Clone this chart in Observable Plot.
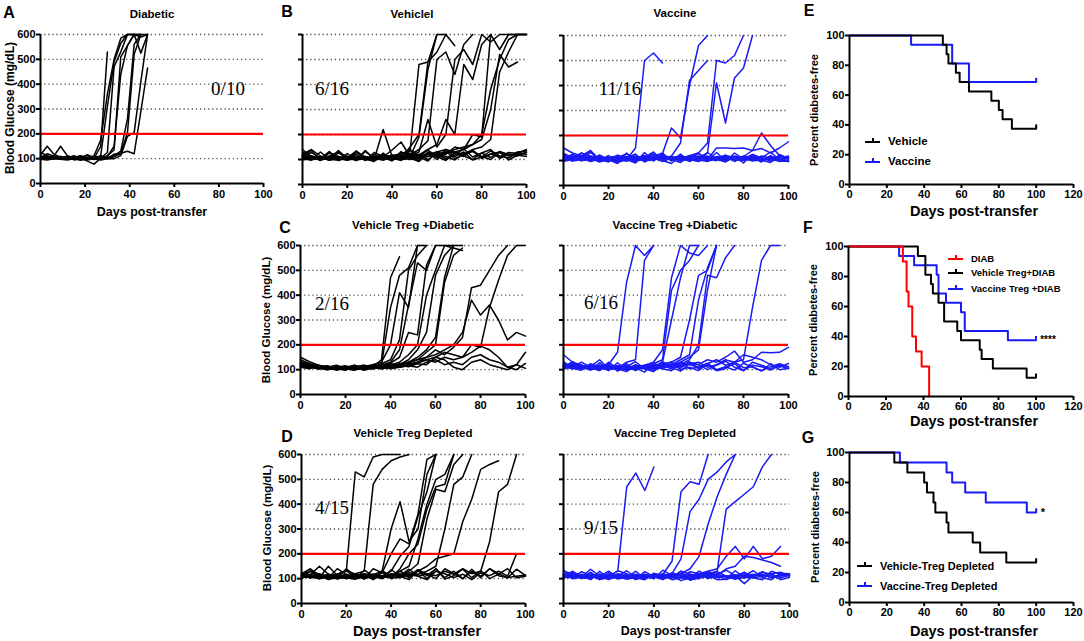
<!DOCTYPE html>
<html><head><meta charset="utf-8">
<script src="https://cdn.jsdelivr.net/npm/d3@7"></script>
<script src="https://cdn.jsdelivr.net/npm/@observablehq/plot@0.6"></script>
<style>
body{margin:0;background:#fff;}
#fig{position:relative;width:1084px;height:641px;overflow:hidden;font-family:"Liberation Sans",Arial,sans-serif;font-weight:bold;color:#000;background:#fff;}
.t{position:absolute;white-space:nowrap;transform:translate(-50%,-50%);line-height:1;}
.l{position:absolute;white-space:nowrap;transform:translate(0,-50%);line-height:1;}
.frac{font-family:"Liberation Serif","Times New Roman",serif;font-weight:normal;}
.seg{position:absolute;height:2px;}
</style></head><body><div id="fig"></div>
<script>
// ---------- data ----------
const daysA = [0,3,6,9,12,15,18,21,24,27,30,33,36,39,42,45,48];
const days = [0,4,8,12,16,20,24,28,32,36,40,44,48,52,56,60,64,68,72,76,80,84,88,92,96,100];
const glucoseTicks = [0,100,200,300,400,500,600];
const gridLevels = [100,200,300,400,500,600];
const dayTicks = [0,20,40,60,80,100];
const survDayTicks = [0,20,40,60,80,100,120];
const pctTicks = [0,20,40,60,80,100];
const threshold = [200];

// A: Diabetic
const diabeticA = [
[115,150,118,105,102,100,108,112,100,150,530],
[100,120,110,150,112,104,98,106,96,112,310,490,565,600,600,600],
[125,112,100,106,98,102,96,100,112,175,360,500,585,600,600,590,600],
[95,106,102,98,95,100,102,90,78,102,125,470,530,600,600],
[105,100,112,100,106,95,100,116,104,100,112,135,510,555,600,600],
[100,110,104,100,98,106,112,95,100,98,104,112,130,260,560,600,600],
[110,98,100,104,110,100,94,100,100,95,100,100,112,190,205,410,600],
[98,95,100,110,100,98,105,100,106,110,100,118,122,130,120,290,465],
[104,108,100,98,104,112,100,105,98,104,108,150,440,555,600,525,600],
[112,105,110,100,100,104,110,100,100,112,100,108,120,205,520,600]
];
// B left: Vehicle
const vehicleB = [
[118,108,104,100,112,104,110,98,104,112,116,122,132,480,490,600,600,555],
[108,115,100,110,104,98,104,112,100,116,110,104,150,200,490,530,600],
[104,98,110,104,100,112,100,106,112,98,110,116,110,190,460,600],
[112,104,108,98,106,100,110,104,98,108,104,112,118,140,175,500,530,440,560,600],
[100,110,98,106,112,104,98,110,106,104,118,108,112,130,260,150,200,500,540,480,600,570,600,600,600,600],
[106,102,112,100,98,110,104,100,112,106,100,104,124,118,140,160,260,200,480,420,560,600],
[110,106,100,112,104,98,106,112,100,110,108,100,106,112,120,130,140,130,140,200,190,600,540,600,600,600],
[102,112,106,98,110,104,100,108,104,98,112,106,100,110,124,118,130,140,150,160,200,380,500,580,600,600],
[114,100,104,110,98,106,112,104,98,104,100,110,116,104,112,130,120,150,140,160,180,300,520,470,490],
[98,104,110,106,100,112,98,104,110,106,104,98,110,120,112,118,126,130,120,140,150,180,450,530,600,600],
[130,112,96,126,112,98,134,110,100,220,112,104,138,110,94,132,100,118,142,110,126,108,132,120,114,130],
[120,140,114,98,126,112,96,136,104,110,138,170,112,94,126,108,140,112,130,98,110,134,114,106,128,120],
[110,128,104,132,96,108,134,98,120,104,98,132,106,92,130,118,104,126,112,138,104,122,130,98,118,128],
[104,98,130,100,136,104,120,96,128,112,94,120,140,116,100,124,112,98,124,132,106,122,110,128,124,140],
[140,112,106,130,98,124,96,132,104,120,110,96,124,110,138,112,96,128,114,100,126,140,104,122,118,112],
[116,136,98,114,130,100,128,102,92,126,100,128,120,96,126,100,132,104,118,134,112,100,128,114,130,134]
];
// B right: Vaccine
const vaccineB = [
[112,118,104,110,100,108,112,104,150,500,530,490],
[120,110,130,116,104,110,118,104,110,120,112,128,230,190,400,560,600],
[104,112,108,100,110,104,98,112,106,110,126,104,118,170,420,460,500],
[108,104,116,110,100,112,104,110,118,104,112,108,104,110,118,130,170,500,490,520,600],
[100,108,112,104,116,100,110,104,112,100,108,116,110,104,120,112,130,410,250,430,470,600],
[150,130,118,140,104,112,118,110,116,104,124,108,112,118,110,128,104,150,150,148,150,140,148,130,150,175],
[128,112,118,104,100,110,112,126,110,118,104,112,116,100,112,118,108,110,120,112,116,140,210,160,120,110],
[110,124,98,132,106,94,122,104,90,132,98,126,104,92,118,130,104,100,122,96,118,112,94,120,96,100],
[124,98,130,100,122,104,88,130,98,112,134,100,88,120,104,96,132,108,94,130,106,124,102,92,124,108],
[98,124,112,136,98,120,96,110,126,94,116,130,98,126,96,114,100,132,100,116,90,124,110,134,102,96],
[100,110,104,118,110,98,104,112,96,110,100,118,110,116,104,112,118,104,110,104,112,100,118,110,100,96],
[112,100,106,110,94,104,110,98,112,100,110,104,112,100,110,104,96,112,118,104,110,98,104,116,110,118],
[106,114,100,104,112,106,92,104,110,98,104,112,106,110,98,116,110,104,96,112,104,110,112,98,104,112],
[96,106,118,100,104,98,110,116,104,106,112,96,110,104,112,98,104,110,116,100,108,104,98,110,116,104],
[110,98,104,112,100,110,104,98,114,110,104,120,100,112,104,108,114,106,104,118,112,104,110,104,98,112],
[114,108,110,96,106,112,100,108,98,104,108,104,114,98,106,112,100,116,110,104,100,116,104,112,106,98]
];
// C left: Vehicle Treg + Diabetic
const vehicleTregC = [
[150,132,118,110,104,112,108,116,110,140,470,555],
[128,124,112,104,110,100,118,104,112,120,350,480,510,600],
[120,118,104,112,100,104,110,112,120,130,200,410,350,600,600],
[116,112,110,100,112,104,100,106,110,124,140,220,500,560,600],
[124,110,116,104,106,112,104,118,112,118,130,180,360,530,500,600],
[132,120,108,112,104,100,112,104,118,112,126,150,250,240,520,600,600,590,580],
[118,114,112,106,110,104,98,112,104,110,118,130,160,200,400,500,600,600],
[126,116,104,110,118,106,112,100,110,104,112,120,140,180,250,480,560,600],
[112,120,118,104,100,112,106,110,104,116,110,124,130,150,180,230,470,600,600],
[140,124,112,116,104,110,118,104,112,110,124,118,130,140,170,200,450,560,590],
[120,110,104,112,106,98,110,104,112,118,106,120,128,140,150,180,160,190,230,430,440,500,560,600],
[114,106,118,104,112,100,110,104,116,110,112,118,124,130,150,160,180,200,250,380,320,360,300,220,250,235],
[110,116,104,112,100,106,112,118,104,110,106,112,116,130,140,150,170,160,150,200,190,350,460,560,600,600],
[118,112,106,100,110,116,104,110,112,106,118,110,120,126,140,130,150,140,150,170,195,180,150,110,120,170],
[126,118,112,104,106,110,100,108,112,104,110,118,112,124,120,150,140,110,100,130,140,120,110,100,120,105],
[110,104,116,112,100,104,110,98,106,112,104,110,116,110,130,140,120,130,120,150,160,140,130,110,100,125]
];
// C right: Vaccine Treg + Diabetic
const vaccineTregC = [
[112,118,110,116,110,120,170,450,600,560,600],
[120,112,118,104,110,112,104,130,140,540,600],
[116,110,104,112,118,106,104,110,112,118,130,180,470,600,570,560,600],
[110,118,112,104,100,110,116,104,108,112,124,140,420,500,540,600],
[124,104,110,116,104,112,100,110,116,104,110,130,300,470,600,600],
[112,110,104,118,110,104,112,106,100,110,116,124,130,150,300,480,500,600],
[118,112,116,104,112,100,108,116,104,112,110,104,120,140,160,380,510,600],
[106,114,110,100,112,116,104,110,112,106,104,116,110,120,140,200,480,470,550,600],
[126,110,112,106,118,104,110,104,112,116,104,110,118,112,124,130,110,120,140,130,140,350,540,600,600],
[112,104,118,110,104,112,116,100,110,104,116,112,120,130,150,180,420,600],
[160,130,118,112,140,104,110,116,104,112,118,110,124,116,130,120,140,130,150,175,130,140,170,168,170,190],
[118,124,110,116,104,112,108,100,118,110,124,116,104,130,120,110,124,140,118,130,160,150,140,120,110,125],
[110,132,112,98,128,100,112,124,96,118,106,132,110,94,124,120,100,118,134,110,96,130,118,104,120,112],
[104,112,130,110,96,124,94,112,132,104,92,120,116,106,132,104,118,96,104,130,108,112,94,124,100,106],
[132,106,98,124,112,96,128,98,106,90,126,104,96,128,104,110,126,98,110,124,96,118,112,98,116,104],
[100,124,106,114,98,130,104,92,120,106,98,118,132,100,110,96,124,100,112,98,126,110,96,112,124,110]
];
// D left: Vehicle Treg Depleted
const vehicleDepD = [
[120,140,110,104,118,130,530,510,590,600,600,600],
[110,104,118,112,104,110,120,130,480,540,575,590,600],
[104,112,100,110,118,104,112,120,116,130,300,410,250,300,520,600],
[112,118,106,104,110,116,98,110,104,124,200,260,240,360,580,600],
[106,110,112,98,104,110,118,104,112,110,130,190,230,350,450,600],
[116,104,110,112,100,106,112,98,118,112,104,140,200,240,380,470,480,600],
[110,112,104,118,110,104,98,112,106,104,110,130,150,260,400,500,520,600],
[104,110,118,106,112,100,110,116,104,112,118,110,130,160,340,460,450,560,600],
[112,106,104,110,116,110,104,112,110,104,120,116,110,130,150,180,190,200,330,420,540,560,575],
[118,104,112,106,100,112,110,104,118,112,104,110,124,118,130,150,300,480,510,600],
[104,110,100,112,106,118,104,110,100,112,106,104,118,110,120,112,130,118,140,120,130,250,450,480,600],
[104,116,150,118,104,140,110,118,96,132,110,120,104,136,118,100,140,120,100,130,110,140,120,104,110,115],
[110,130,112,96,118,132,104,112,98,128,100,112,138,110,96,130,120,104,118,96,124,112,130,110,200],
[118,130,104,150,112,134,118,100,140,124,104,130,112,136,112,140,104,130,100,138,104,140,112,104,138,112],
[100,132,118,104,140,116,100,134,112,100,136,110,96,132,100,140,98,112,138,104,132,100,118,140,104,110]
];
// D right: Vaccine Treg Depleted
const vaccineDepD = [
[120,116,112,104,118,110,130,470,525,455,550],
[110,104,118,112,106,110,116,104,112,110,104,118,170,450,490,480,600],
[104,112,110,118,104,112,100,110,116,104,112,110,120,180,370,420,500,530,570,600],
[112,118,104,110,100,116,110,104,112,118,110,104,112,120,140,190,320,430,520,600],
[118,104,112,106,110,104,118,110,100,112,104,116,110,104,118,112,120,130,380,410,440,470,550,600],
[106,112,104,116,110,100,112,104,110,116,104,112,118,110,104,120,130,140,190,230,180,230,180,190,230],
[130,120,112,104,118,110,104,116,110,104,118,112,104,130,118,110,124,112,140,150,190,185,175,165,150],
[120,110,104,118,112,104,110,98,106,112,104,120,110,104,98,112,118,106,112,104,120,110,118,104,112,118],
[110,118,112,104,110,130,104,112,118,104,112,100,110,118,112,104,110,120,104,110,112,118,110,120,126,110],
[104,130,100,126,98,104,132,120,96,110,100,134,112,92,104,130,112,96,98,132,104,110,126,118,96,106],
[116,104,128,112,96,124,100,104,130,98,120,112,96,104,128,120,100,118,134,112,80,112,128,110,112,118],
[136,100,106,138,110,96,120,110,100,128,108,96,124,112,96,104,130,112,96,110,126,104,96,130,118,112],
[100,128,112,96,130,98,110,132,104,96,122,110,104,130,94,104,112,128,110,98,112,132,104,96,122,120],
[118,112,104,100,116,110,104,112,104,100,112,118,104,106,112,118,104,110,112,100,104,110,116,104,112,116],
[106,104,116,110,100,104,110,116,104,112,110,104,112,118,104,100,116,104,110,116,110,104,110,118,104,114]
];

// Survival (percent diabetes-free) step curves
const eVehicleDays = [0,50,52,53,57,59,64,76,80,82,87,100];
const eVehiclePct  = [100,93.75,87.5,81.25,75,68.75,62.5,56.25,50,43.75,37.5,37.5];
const eVaccineDays = [0,33,55,64,100];
const eVaccinePct  = [100,93.75,81.25,68.75,68.75];
const fDiabDays = [0,29,31,32,34,36,39,43];
const fDiabPct  = [100,90,70,60,40,30,20,0];
const fVehicleDays = [0,37,41,44,45,48,51,58,60,70,71,77,95,100];
const fVehiclePct  = [100,93.75,81.25,75,68.75,62.5,50,43.75,37.5,31.25,25,18.75,12.5,12.5];
const fVaccineDays = [0,27,35,47,48,52,60,62,85,100];
const fVaccinePct  = [100,93.75,87.5,81.25,68.75,62.5,56.25,43.75,37.5,37.5];
const gVehicleDays = [0,24,31,40,41.5,45,46,52,53,66,70,84,100];
const gVehiclePct  = [100,93.33,86.67,80,73.33,66.67,60,53.33,46.67,40,33.33,26.67,26.67];
const gVaccineDays = [0,27,52,55,62,73,95,100];
const gVaccinePct  = [100,93.33,86.67,80,73.33,66.67,60,60];

// ---------- drawing ----------
const fig = document.getElementById("fig");
const BLACK = "#000", BLUE = "#1a1af5", RED = "#ff0000";
const FONT = "'Liberation Sans', Arial, sans-serif";

function place(svg, L, T, mL, mT) {
  svg.style.position = "absolute";
  svg.style.left = (L - mL) + "px";
  svg.style.top = (T - mT) + "px";
  fig.appendChild(svg);
}

function glucosePanel(box, series, dayArr, color, yLabels) {
  const [L, T, R, B] = box;
  const mL = 32, mR = 8, mT = 6, mB = 24;
  const rows = [];
  series.forEach((s, i) => s.forEach((v, j) => { if (v != null) rows.push({day: dayArr[j], value: v, mouse: i}); }));
  const svg = Plot.plot({
    width: R - L + mL + mR, height: B - T + mT + mB,
    marginLeft: mL, marginRight: mR, marginTop: mT, marginBottom: mB,
    style: {fontFamily: FONT, fontSize: "11px", fontWeight: "bold", background: "transparent", overflow: "visible", color: "#000"},
    x: {domain: [0, 100]},
    y: {domain: [0, 600]},
    marks: [
      Plot.ruleY(gridLevels, {stroke: "#555", strokeWidth: 1.3, strokeDasharray: "1.3,2.8"}),
      Plot.line(rows, {x: "day", y: "value", z: "mouse", stroke: color, strokeWidth: 1.5, strokeLinejoin: "round"}),
      Plot.ruleY(threshold, {stroke: RED, strokeWidth: 2.2}),
      Plot.axisX({ticks: dayTicks, tickSize: 4, tickPadding: 3, strokeWidth: 2, label: null}),
      Plot.axisY({ticks: glucoseTicks, tickSize: 4, tickPadding: 1, strokeWidth: 2, label: null,
                  tickFormat: yLabels ? (d => String(d)) : (() => "")}),
      Plot.ruleX([0], {stroke: "#000", strokeWidth: 2}),
      Plot.ruleY([0], {stroke: "#000", strokeWidth: 2})
    ]
  });
  place(svg, L, T, mL, mT);
}

function survivalPanel(box, curves) {
  const [L, T, R, B] = box;
  const mL = 32, mR = 8, mT = 6, mB = 24;
  const marks = [];
  curves.forEach(c => {
    const rows = c.days.map((d, i) => ({day: d, pct: c.pct[i]}));
    marks.push(Plot.line(rows, {x: "day", y: "pct", curve: "step-after", stroke: c.color, strokeWidth: 2}));
    const last = rows[rows.length - 1];
    if (last.pct > 0) marks.push(Plot.ruleX([last], {x: "day", y1: "pct", y2: d => d.pct + 2.5, stroke: c.color, strokeWidth: 2}));
  });
  const svg = Plot.plot({
    width: R - L + mL + mR, height: B - T + mT + mB,
    marginLeft: mL, marginRight: mR, marginTop: mT, marginBottom: mB,
    style: {fontFamily: FONT, fontSize: "11px", fontWeight: "bold", background: "transparent", overflow: "visible", color: "#000"},
    x: {domain: [0, 120]},
    y: {domain: [0, 100]},
    marks: [
      ...marks,
      Plot.axisX({ticks: survDayTicks, tickSize: 4, tickPadding: 2, strokeWidth: 2, label: null}),
      Plot.axisY({ticks: pctTicks, tickSize: 4, tickPadding: 1, strokeWidth: 2, label: null}),
      Plot.ruleX([0], {stroke: "#000", strokeWidth: 2}),
      Plot.ruleY([0], {stroke: "#000", strokeWidth: 2})
    ]
  });
  place(svg, L, T, mL, mT);
}

function txt(x, y, s, size, cls = "t", extra = {}) {
  const d = document.createElement("div");
  d.className = cls;
  d.textContent = s;
  d.style.left = x + "px";
  d.style.top = y + "px";
  d.style.fontSize = size + "px";
  Object.assign(d.style, extra);
  fig.appendChild(d);
  return d;
}
function vtxt(x, y, s, size) {
  return txt(x, y, s, size, "t", {transform: "translate(-50%,-50%) rotate(-90deg)"});
}
function legendItem(x, y, color, label, size) {
  const seg = document.createElement("div");
  seg.className = "seg";
  Object.assign(seg.style, {left: x + "px", top: (y - 1) + "px", width: "15px", background: color});
  fig.appendChild(seg);
  const tick = document.createElement("div");
  Object.assign(tick.style, {position: "absolute", left: (x + 6.5) + "px", top: (y - 4) + "px", width: "2px", height: "4px", background: color});
  fig.appendChild(tick);
  txt(x + 23, y, label, size, "l");
}

// glucose panels
glucosePanel([40, 34, 263, 183], diabeticA, daysA, BLACK, true);
glucosePanel([302, 34, 526, 184], vehicleB, days, BLACK, false);
glucosePanel([563, 35, 788, 185], vaccineB, days, BLUE, false);
glucosePanel([300, 245, 525, 394], vehicleTregC, days, BLACK, true);
glucosePanel([563, 245, 788, 394], vaccineTregC, days, BLUE, false);
glucosePanel([301, 454, 525, 603], vehicleDepD, days, BLACK, true);
glucosePanel([563, 454, 789, 603], vaccineDepD, days, BLUE, false);

// survival panels
survivalPanel([849, 35, 1073, 184], [
  {days: eVaccineDays, pct: eVaccinePct, color: BLUE},
  {days: eVehicleDays, pct: eVehiclePct, color: BLACK}
]);
survivalPanel([848, 246, 1073, 396], [
  {days: fVaccineDays, pct: fVaccinePct, color: BLUE},
  {days: fVehicleDays, pct: fVehiclePct, color: BLACK},
  {days: fDiabDays, pct: fDiabPct, color: RED}
]);
survivalPanel([849, 452, 1073, 602], [
  {days: gVaccineDays, pct: gVaccinePct, color: BLUE},
  {days: gVehicleDays, pct: gVehiclePct, color: BLACK}
]);

// panel letters
[["A",9,13],["B",287,12],["C",285,228],["D",287,437],["E",809,11],["F",808,228],["G",808,438]]
  .forEach(([s,x,y]) => txt(x, y, s, 16));

// titles
txt(152, 15, "Diabetic", 11.5);
txt(412, 15, "Vehiclel", 11.5);
txt(675, 14, "Vaccine", 11.5);
txt(413, 226, "Vehicle Treg +Diabetic", 11.5);
txt(675, 226, "Vaccine Treg +Diabetic", 11.5);
txt(413, 434, "Vehicle Treg Depleted", 11.5);
txt(675, 434, "Vaccine Treg Depleted", 11.5);

// fractions
[["0/10",228,88],["6/16",332,88],["11/16",620,88],["2/16",332,303],["6/16",601,302],["4/15",332,507],["9/15",601,527]]
  .forEach(([s,x,y]) => txt(x, y, s, 19, "t frac"));

// axis titles
txt(152, 212, "Days post-transfer", 12.5);
txt(417, 631, "Days post-transfer", 14.5);
txt(676, 631, "Days post-transfer", 12.5);
txt(974, 211, "Days post-transfer", 14.5);
txt(974, 421, "Days post-transfer", 14.5);
txt(974, 631, "Days post-transfer", 14.5);
vtxt(10, 108, "Blood Glucose (mg/dL)", 12);
vtxt(267, 320, "Blood Glucose (mg/dL)", 11.5);
vtxt(268, 528, "Blood Glucose (mg/dL)", 11.5);
vtxt(814, 110, "Percent diabetes-free", 11);
vtxt(813, 320, "Percent diabetes-free", 11);
vtxt(815, 527, "Percent diabetes-free", 11);

// legends
legendItem(865, 142, BLACK, "Vehicle", 11.5);
legendItem(865, 162, BLUE, "Vaccine", 11.5);
legendItem(948, 259, RED, "DIAB", 9.5);
legendItem(948, 273, BLACK, "Vehicle Treg+DIAB", 9.5);
legendItem(948, 289, BLUE, "Vaccine Treg +DIAB", 9.5);
legendItem(857, 566, BLACK, "Vehicle-Treg Depleted", 11);
legendItem(857, 586, BLUE, "Vaccine-Treg Depleted", 11);

// significance marks
txt(1048, 340, "****", 10);
txt(1043, 512, "*", 11);
</script></body></html>
